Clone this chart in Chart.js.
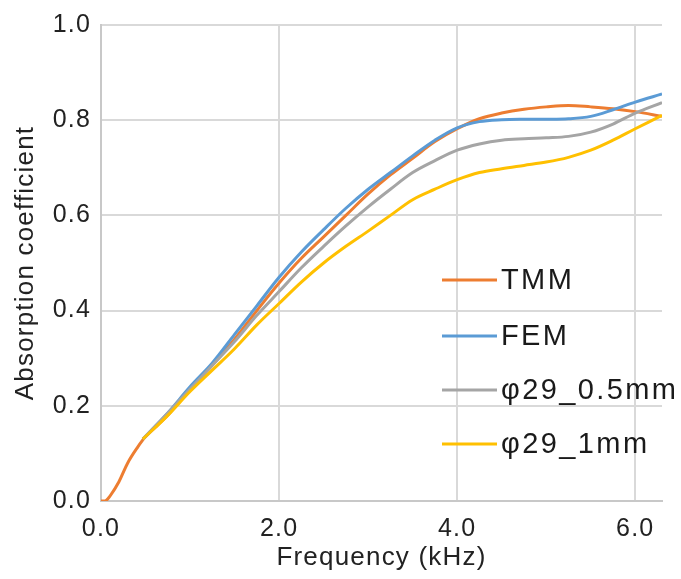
<!DOCTYPE html>
<html>
<head>
<meta charset="utf-8">
<script src="https://cdn.jsdelivr.net/npm/chart.js@4.4.0/dist/chart.umd.min.js"></script>
<style>
  html, body { margin: 0; padding: 0; background: #fff; }
  #wrap { width: 681px; height: 579px; }
</style>
</head>
<body>
<div id="wrap"><canvas id="absorptionChart" width="681" height="579"></canvas></div>
<script>
// frequency (kHz) for the TMM curve, which starts at 0
const freqTmm = [0, 0.05, 0.1, 0.2, 0.3, 0.4, 0.5, 0.75, 1.0, 1.25, 1.5, 1.75, 2.0, 2.25, 2.5, 2.75, 3.0, 3.25, 3.5, 3.75, 4.0, 4.25, 4.5, 4.75, 5.0, 5.25, 5.5, 5.75, 6.0, 6.3];
const tmm = [0, 0.0, 0.01, 0.04, 0.08, 0.11, 0.135, 0.18, 0.235, 0.285, 0.34, 0.40, 0.458, 0.51, 0.555, 0.60, 0.645, 0.685, 0.72, 0.755, 0.782, 0.803, 0.815, 0.823, 0.828, 0.831, 0.828, 0.824, 0.818, 0.808];

// frequency (kHz) for FEM and measured curves
const freq = [0.47, 0.75, 1.0, 1.25, 1.5, 1.75, 2.0, 2.25, 2.5, 2.75, 3.0, 3.25, 3.5, 3.75, 4.0, 4.25, 4.5, 4.75, 5.0, 5.25, 5.5, 5.75, 6.0, 6.3];
const fem = [0.13, 0.185, 0.24, 0.29, 0.35, 0.41, 0.47, 0.523, 0.57, 0.615, 0.655, 0.69, 0.725, 0.758, 0.784, 0.797, 0.801, 0.802, 0.802, 0.803, 0.808, 0.822, 0.838, 0.855];
const phi05 = [0.13, 0.185, 0.235, 0.285, 0.335, 0.39, 0.44, 0.49, 0.535, 0.578, 0.618, 0.655, 0.69, 0.715, 0.737, 0.75, 0.758, 0.761, 0.763, 0.766, 0.775, 0.792, 0.815, 0.837];
const phi1 = [0.13, 0.18, 0.23, 0.275, 0.32, 0.37, 0.415, 0.46, 0.50, 0.535, 0.567, 0.60, 0.633, 0.655, 0.675, 0.69, 0.698, 0.705, 0.712, 0.722, 0.737, 0.758, 0.782, 0.81];

const seriesNames = ['TMM', 'FEM', 'φ29_0.5mm', 'φ29_1mm'];
const seriesColors = ['#ED7D31', '#5B9BD5', '#A5A5A5', '#FFC000'];

const xTicks = [0, 2, 4, 6];
const yTicks = [0, 0.2, 0.4, 0.6, 0.8, 1.0];

function pts(xs, ys) {
    return xs.map((x, i) => ({ x: x, y: ys[i] }));
}

const fontFamily = '"Liberation Sans", Arial, sans-serif';

// the source figure's text is a bit wider than Arial
const textSpacing = {
    id: 'textSpacing',
    beforeDraw(chart) {
        chart.ctx.letterSpacing = '1.2px';
    }
};

// legend drawn inside the plot area
const insideLegend = {
    id: 'insideLegend',
    afterDraw(chart) {
        const ctx = chart.ctx;
        const rows = [280, 336, 390, 444];
        ctx.save();
        ctx.font = '29px ' + fontFamily;
        ctx.letterSpacing = '2.4px';
        ctx.textBaseline = 'middle';
        chart.data.datasets.forEach((ds, i) => {
            const y = rows[i];
            ctx.strokeStyle = ds.borderColor;
            ctx.lineWidth = 3;
            ctx.beginPath();
            ctx.moveTo(442, y);
            ctx.lineTo(497, y);
            ctx.stroke();
            ctx.fillStyle = '#1a1a1a';
            ctx.fillText(ds.label, 501, y + 1);
        });
        ctx.restore();
    }
};

const ctx = document.getElementById('absorptionChart').getContext('2d');

const absorptionChart = new Chart(ctx, {
    type: 'line',
    data: {
        datasets: [
            { label: seriesNames[0], data: pts(freqTmm, tmm), borderColor: seriesColors[0], order: 4 },
            { label: seriesNames[1], data: pts(freq, fem), borderColor: seriesColors[1], order: 3 },
            { label: seriesNames[2], data: pts(freq, phi05), borderColor: seriesColors[2], order: 2 },
            { label: seriesNames[3], data: pts(freq, phi1), borderColor: seriesColors[3], order: 1 }
        ]
    },
    options: {
        responsive: false,
        animation: false,
        layout: { padding: { top: 23, right: 19, left: 0, bottom: 0 } },
        elements: {
            point: { radius: 0 },
            line: { borderWidth: 3, tension: 0.35, fill: false }
        },
        plugins: {
            legend: { display: false },
            tooltip: { enabled: false }
        },
        scales: {
            x: {
                type: 'linear',
                min: 0,
                max: 6.3,
                afterBuildTicks: axis => { axis.ticks = xTicks.map(v => ({ value: v })); },
                afterFit: axis => { axis.height = 78; },
                grid: { color: '#d9d9d9', lineWidth: 2, drawTicks: false },
                border: { color: '#c8c8c8', width: 2 },
                ticks: {
                    padding: 13,
                    color: '#222',
                    font: { family: fontFamily, size: 25 },
                    callback: v => v.toFixed(1)
                },
                title: {
                    display: true,
                    text: 'Frequency (kHz)',
                    color: '#222',
                    font: { family: fontFamily, size: 26 },
                    padding: { top: 0, bottom: 6 }
                }
            },
            y: {
                min: 0,
                max: 1,
                afterBuildTicks: axis => { axis.ticks = yTicks.map(v => ({ value: v })); },
                afterFit: axis => { axis.width = 101; },
                grid: { color: '#d9d9d9', lineWidth: 2, drawTicks: false },
                border: { color: '#c8c8c8', width: 2 },
                ticks: {
                    padding: 10,
                    color: '#222',
                    font: { family: fontFamily, size: 25 },
                    callback: v => v.toFixed(1)
                },
                title: {
                    display: true,
                    text: 'Absorption coefficient',
                    color: '#222',
                    font: { family: fontFamily, size: 26 },
                    padding: { top: 10, bottom: 0 }
                }
            }
        }
    },
    plugins: [textSpacing, insideLegend]
});
</script>
</body>
</html>
